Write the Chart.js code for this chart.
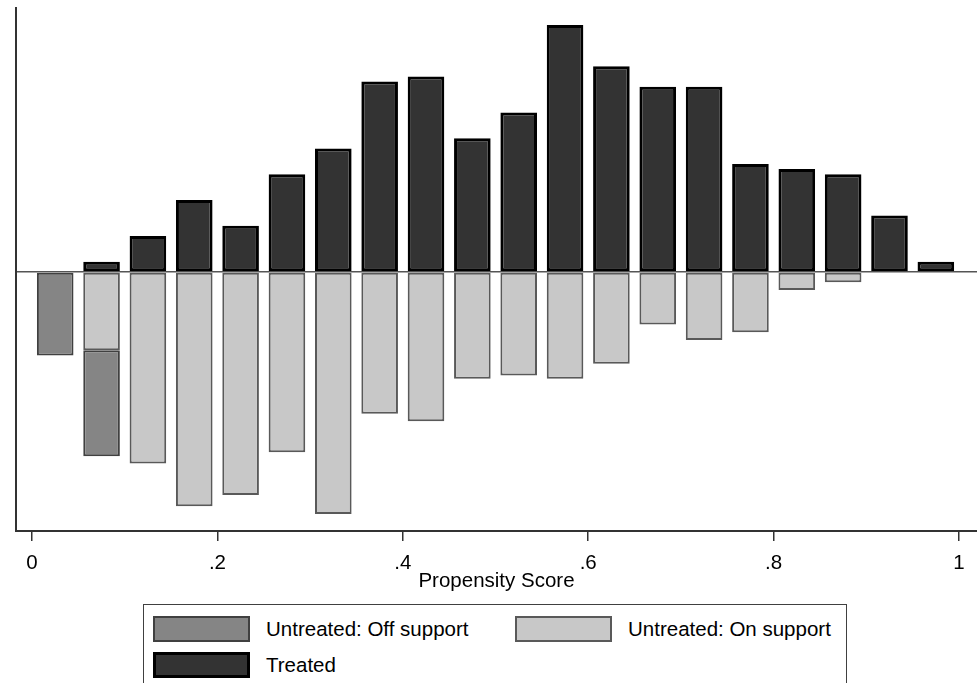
<!DOCTYPE html>
<html>
<head>
<meta charset="utf-8">
<script src="https://cdn.jsdelivr.net/npm/chart.js@4.4.1/dist/chart.umd.min.js"></script>
<style>
  html, body { margin: 0; padding: 0; background: #fff; }
  body { width: 977px; height: 683px; overflow: hidden; position: relative; font-family: "Liberation Sans", Arial, sans-serif; }
  #wrap { position: absolute; left: 0; top: 0; width: 977px; height: 600px; }
  #legend { position: absolute; left: 143px; top: 604px; width: 704px; height: 100px;
            border: 1.5px solid #404040; box-sizing: border-box; }
  .item { position: absolute; display: flex; align-items: center; height: 26px; }
  .sw { width: 97px; height: 26px; box-sizing: border-box; margin-right: 16px; }
  .lbl { font-size: 20.5px; color: #000; white-space: nowrap; }
</style>
</head>
<body>
<div id="wrap"><canvas id="c"></canvas></div>
<div id="legend"></div>
<script>
// ---- data ----
const binCenters = [0.025, 0.075, 0.125, 0.175, 0.225, 0.275, 0.325, 0.375, 0.425, 0.475,
                    0.525, 0.575, 0.625, 0.675, 0.725, 0.775, 0.825, 0.875, 0.925, 0.975];
const treated = [0, 2, 7, 14, 9, 19, 24, 37, 38, 26, 31, 48, 40, 36, 36, 21, 20, 19, 11, 2];
const untreatedOn = [0, 15.2, 37.2, 45.5, 43.3, 35, 47, 27.5, 29, 20.7,
                     20.1, 20.7, 17.8, 10.2, 13.2, 11.7, 3.5, 2, 0, 0];
const untreatedOff = [16.2, 20.6, 0, 0, 0, 0, 0, 0, 0, 0, 0, 0, 0, 0, 0, 0, 0, 0, 0, 0];
const xTickValues = [0, 0.2, 0.4, 0.6, 0.8, 1];
const xTickLabels = ['0', '.2', '.4', '.6', '.8', '1'];
const seriesNames = ['Treated', 'Untreated: On support', 'Untreated: Off support'];
const legendOrder = [2, 1, 0];

Chart.defaults.font.family = '"Liberation Sans", Arial, sans-serif';
Chart.defaults.color = '#000';

const toPoints = (vals, sign) => vals.map((v, i) => ({ x: binCenters[i], y: sign * v }));

const chart = new Chart(document.getElementById('c'), {
  type: 'bar',
  data: {
    datasets: [
      { label: seriesNames[0], data: toPoints(treated, 1),
        backgroundColor: '#333333', borderColor: '#000000', borderWidth: 3 },
      { label: seriesNames[1], data: toPoints(untreatedOn, -1),
        backgroundColor: '#c8c8c8', borderColor: '#595959', borderWidth: 2 },
      { label: seriesNames[2], data: toPoints(untreatedOff, -1),
        backgroundColor: '#858585', borderColor: '#404040', borderWidth: 2 }
    ]
  },
  options: {
    responsive: true,
    maintainAspectRatio: false,
    animation: false,
    layout: { padding: { top: 8, left: 16, right: 0, bottom: 0 } },
    datasets: { bar: { categoryPercentage: 1, barPercentage: 0.79, borderSkipped: false } },
    plugins: { legend: { display: false }, tooltip: { enabled: false } },
    scales: {
      x: {
        type: 'linear', offset: false, stacked: true,
        min: -0.0173, max: 1.0194,
        afterBuildTicks: (axis) => { axis.ticks = xTickValues.map(v => ({ value: v })); },
        afterFit: (axis) => { axis.height = 69; },
        ticks: {
          padding: 12,
          font: { size: 20.5, lineHeight: 1 },
          color: '#000',
          callback: (v) => { const i = xTickValues.indexOf(v); return i >= 0 ? xTickLabels[i] : ''; }
        },
        grid: { offset: false, drawOnChartArea: false, drawTicks: true, tickLength: 10, color: '#333', lineWidth: 1.5 },
        border: { display: true, color: '#333', width: 2 },
        title: { display: true, text: 'Propensity Score', color: '#000',
                 font: { size: 20.5, lineHeight: 1 }, padding: { top: 0, bottom: 8 } }
      },
      y: {
        type: 'linear', stacked: true,
        min: -50.3, max: 51.3,
        afterBuildTicks: (axis) => { axis.ticks = [{ value: 0 }]; },
        ticks: { display: false },
        grid: { drawTicks: false, color: '#555', lineWidth: 1.5 },
        border: { display: true, color: '#333', width: 2 }
      }
    }
  }
});

// legend built from the chart's datasets
const legendEl = document.getElementById('legend');
const slots = [{ left: 9, top: 11 }, { left: 371, top: 11 }, { left: 9, top: 47 }];
legendOrder.forEach((dsIndex, k) => {
  const ds = chart.data.datasets[dsIndex];
  const item = document.createElement('div');
  item.className = 'item';
  item.style.left = slots[k].left + 'px';
  item.style.top = slots[k].top + 'px';
  const sw = document.createElement('div');
  sw.className = 'sw';
  sw.style.background = ds.backgroundColor;
  sw.style.border = ds.borderWidth + 'px solid ' + ds.borderColor;
  const lbl = document.createElement('span');
  lbl.className = 'lbl';
  lbl.textContent = ds.label;
  item.appendChild(sw);
  item.appendChild(lbl);
  legendEl.appendChild(item);
});
</script>
</body>
</html>
